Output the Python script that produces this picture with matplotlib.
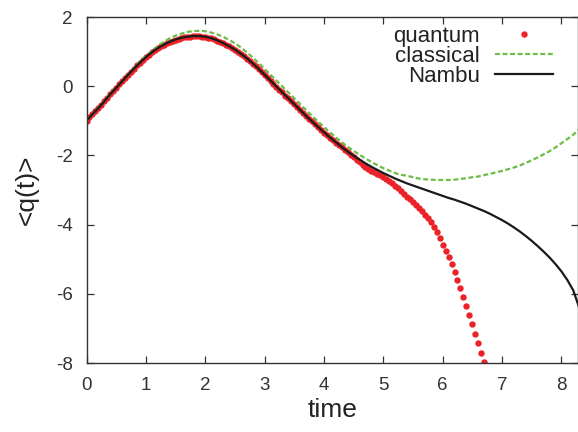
import numpy as np
import matplotlib
matplotlib.use("Agg")
import matplotlib.pyplot as plt

plt.rcParams['font.family'] = ['Liberation Sans', 'DejaVu Sans']

# ---- data ----
# quantum expectation value, sampled every 0.05 in time
quantum_t = [round(0.05 * i, 2) for i in range(135)]
quantum_q = [
    -1.00, -0.90, -0.81, -0.72, -0.63, -0.54, -0.44, -0.34, -0.23, -0.14,
    -0.05, 0.05, 0.14, 0.24, 0.33, 0.42, 0.51, 0.60, 0.68, 0.76,
    0.84, 0.91, 0.98, 1.04, 1.09, 1.15, 1.19, 1.24, 1.27, 1.31,
    1.34, 1.37, 1.39, 1.41, 1.42, 1.43, 1.44, 1.44, 1.44, 1.43,
    1.42, 1.40, 1.38, 1.35, 1.32, 1.28, 1.24, 1.19, 1.15, 1.10,
    1.05, 0.99, 0.93, 0.86, 0.80, 0.73, 0.65, 0.57, 0.49, 0.41,
    0.33, 0.24, 0.16, 0.07, -0.01, -0.10, -0.18, -0.27, -0.35, -0.44,
    -0.52, -0.61, -0.69, -0.78, -0.86, -0.94, -1.02, -1.10, -1.18, -1.26,
    -1.34, -1.41, -1.49, -1.56, -1.63, -1.70, -1.77, -1.84, -1.91, -1.99,
    -2.06, -2.13, -2.20, -2.27, -2.33, -2.39, -2.44, -2.49, -2.54, -2.58,
    -2.63, -2.68, -2.74, -2.80, -2.87, -2.95, -3.03, -3.11, -3.19, -3.27,
    -3.36, -3.44, -3.52, -3.61, -3.71, -3.81, -3.93, -4.06, -4.22, -4.40,
    -4.58, -4.75, -4.94, -5.14, -5.37, -5.60, -5.84, -6.09, -6.34, -6.60,
    -6.88, -7.15, -7.43, -7.70, -7.98,
]

# classical and Nambu curves, sampled every 0.1 in time
line_t = [round(0.1 * i, 1) for i in range(84)]
classical_q = [
    -1.00, -0.81, -0.62, -0.43, -0.22, -0.04, 0.15, 0.34, 0.53, 0.71,
    0.87, 1.02, 1.16, 1.28, 1.38, 1.46, 1.52, 1.57, 1.59, 1.60,
    1.59, 1.55, 1.50, 1.43, 1.34, 1.24, 1.12, 0.98, 0.83, 0.67,
    0.50, 0.33, 0.16, -0.01, -0.18, -0.35, -0.52, -0.69, -0.86, -1.02,
    -1.18, -1.33, -1.48, -1.62, -1.75, -1.87, -1.98, -2.09, -2.19, -2.28,
    -2.37, -2.44, -2.51, -2.56, -2.59, -2.63, -2.67, -2.69, -2.70, -2.71,
    -2.71, -2.71, -2.70, -2.68, -2.66, -2.63, -2.61, -2.57, -2.53, -2.49,
    -2.45, -2.40, -2.35, -2.29, -2.22, -2.14, -2.06, -1.97, -1.88, -1.77,
    -1.65, -1.53, -1.40, -1.25,
]
nambu_q = [
    -1.00, -0.81, -0.63, -0.44, -0.23, -0.05, 0.14, 0.33, 0.51, 0.68,
    0.84, 0.98, 1.10, 1.20, 1.28, 1.35, 1.40, 1.43, 1.45, 1.45,
    1.43, 1.39, 1.33, 1.25, 1.16, 1.06, 0.94, 0.81, 0.66, 0.50,
    0.33, 0.16, -0.01, -0.18, -0.35, -0.52, -0.69, -0.86, -1.02, -1.18,
    -1.33, -1.48, -1.62, -1.76, -1.89, -2.01, -2.12, -2.23, -2.33, -2.42,
    -2.51, -2.59, -2.67, -2.74, -2.81, -2.87, -2.93, -2.99, -3.05, -3.11,
    -3.17, -3.23, -3.28, -3.34, -3.40, -3.47, -3.54, -3.61, -3.69, -3.78,
    -3.87, -3.97, -4.08, -4.20, -4.33, -4.47, -4.62, -4.78, -4.95, -5.14,
    -5.35, -5.60, -5.90, -6.40,
]

x_ticks = [0, 1, 2, 3, 4, 5, 6, 7, 8]
y_ticks = [-8, -6, -4, -2, 0, 2]

# ---- figure ----
fig = plt.figure(figsize=(5.78, 4.32), dpi=100)
ax = fig.add_axes([86.5 / 578, 69 / 432, (578 - 86.5) / 578, (363 - 17) / 432])

ax.plot(quantum_t, quantum_q, linestyle='none', marker='o', markersize=4.6,
        markeredgewidth=0, color='#ec2229', label='quantum', clip_on=True)
ax.plot(line_t, classical_q, linestyle=(0, (2.2, 1.2)), linewidth=1.6,
        color='#6cbd45', label='classical')
ax.plot(line_t, nambu_q, linestyle='-', linewidth=1.6, color='#1a1a1a',
        label='Nambu')

ax.set_xlim(0, 8.28)
ax.set_ylim(-8, 2)
ax.set_xticks(x_ticks)
ax.set_yticks(y_ticks)
ax.set_xticklabels([str(v) for v in x_ticks])
ax.set_yticklabels([str(v) for v in y_ticks])

ax.tick_params(direction='in', length=5, width=0.9, top=True, right=True,
               labelsize=13.5, colors='#333333', pad=10)
ax.tick_params(axis='y', pad=10)
for s in ax.spines.values():
    s.set_linewidth(1.0)
    s.set_color('#333333')

ax.set_xlabel('time', fontsize=19, color='#222222', labelpad=3)
ax.set_ylabel('<q(t)>', fontsize=19, color='#222222', labelpad=12)

leg = ax.legend(loc='upper right', bbox_to_anchor=(0.976, 1.013), frameon=False,
                markerfirst=False, fontsize=16, handlelength=2.6,
                handletextpad=0.7, labelspacing=-0.05, borderaxespad=0.2,
                numpoints=1)
for t in leg.get_texts():
    t.set_color('#222222')

fig.savefig('out.png', dpi=100)
